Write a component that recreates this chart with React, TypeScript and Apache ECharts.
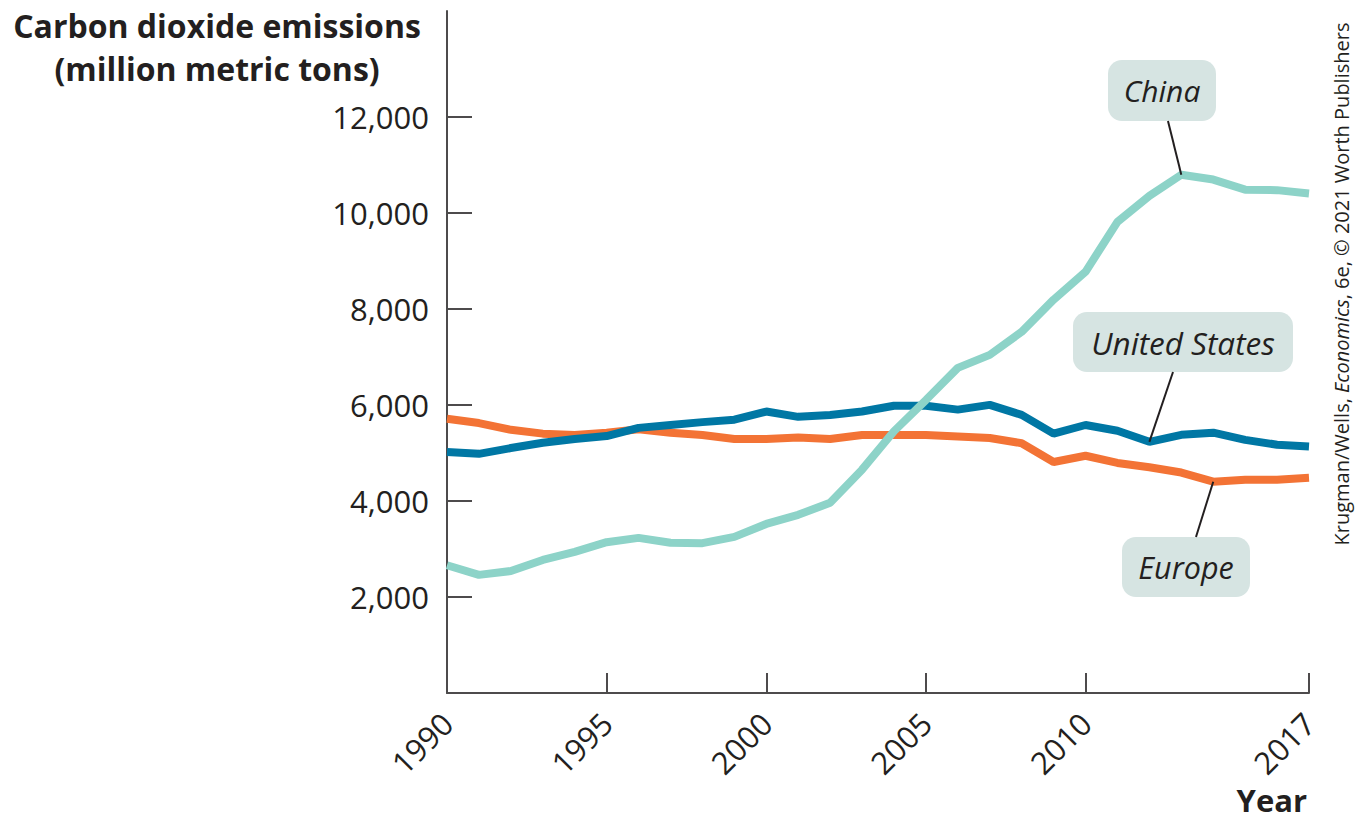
import React, { useEffect, useRef } from "react";
import * as echarts from "echarts";

const years = [1990, 1991, 1992, 1993, 1994, 1995, 1996, 1997, 1998, 1999, 2000, 2001, 2002, 2003, 2004, 2005, 2006, 2007, 2008, 2009, 2010, 2011, 2012, 2013, 2014, 2015, 2016, 2017];
const china = [2660, 2460, 2540, 2770, 2940, 3140, 3230, 3130, 3120, 3250, 3520, 3710, 3960, 4650, 5450, 6100, 6770, 7040, 7520, 8190, 8770, 9810, 10350, 10790, 10690, 10480, 10470, 10400];
const unitedStates = [5020, 4980, 5100, 5210, 5290, 5350, 5520, 5580, 5640, 5690, 5860, 5750, 5790, 5860, 5980, 5980, 5900, 6000, 5790, 5400, 5580, 5460, 5230, 5375, 5420, 5270, 5170, 5130];
const europe = [5710, 5620, 5480, 5400, 5370, 5420, 5490, 5420, 5370, 5290, 5290, 5320, 5290, 5370, 5370, 5370, 5340, 5310, 5200, 4810, 4940, 4790, 4700, 4590, 4400, 4440, 4440, 4480];
const xTicks = [1990, 1995, 2000, 2005, 2010, 2017];
const yTicks = [2000, 4000, 6000, 8000, 10000, 12000];

const FONT = "'Open Sans', 'Noto Sans', sans-serif";
const TXT = "#231f20";
const AXIS = "#4d4b4c";

export default function App() {
  const ref = useRef<HTMLDivElement>(null);
  useEffect(() => {
    document.body.style.margin = "0";
    const chart = echarts.init(ref.current!, null, { renderer: "svg" });
    const mk = (vals: number[]) => years.map((y, i) => [y, vals[i]]);
    chart.setOption({
      animation: false,
      textStyle: { fontFamily: FONT },
      grid: { left: 447, right: 48, top: 11, bottom: 130 },
      xAxis: {
        type: "value",
        min: 1990,
        max: 2017,
        splitLine: { show: false },
        axisLine: { lineStyle: { color: AXIS, width: 2 } },
        axisTick: { inside: true, length: 20, customValues: xTicks, lineStyle: { color: AXIS, width: 2 } },
        axisLabel: {
          customValues: xTicks,
          rotate: 45,
          fontSize: 31,
          color: TXT,
          margin: 25,
          fontFamily: FONT,
          formatter: (v: number) => String(v),
        },
      },
      yAxis: {
        type: "value",
        min: 0,
        max: 14200,
        splitLine: { show: false },
        axisLine: { show: true, lineStyle: { color: AXIS, width: 2 } },
        axisTick: { show: true, inside: true, length: 25, customValues: yTicks, lineStyle: { color: AXIS, width: 2 } },
        axisLabel: {
          customValues: yTicks,
          fontSize: 31,
          color: TXT,
          margin: 18,
          fontFamily: FONT,
          formatter: (v: number) => v.toLocaleString("en-US"),
        },
      },
      series: [
        { name: "Europe", type: "line", symbol: "none", data: mk(europe), lineStyle: { color: "#f37335", width: 8 }, itemStyle: { color: "#f37335" } },
        { name: "United States", type: "line", symbol: "none", data: mk(unitedStates), lineStyle: { color: "#0077a4", width: 8 }, itemStyle: { color: "#0077a4" } },
        { name: "China", type: "line", symbol: "none", data: mk(china), lineStyle: { color: "#8dd3c8", width: 8 }, itemStyle: { color: "#8dd3c8" } },
      ],
    });

    const px = (si: number, yr: number, vals: number[]) =>
      chart.convertToPixel({ seriesIndex: si }, [yr, vals[years.indexOf(yr)]]) as number[];
    const cn = px(2, 2013, china);
    const us = px(1, 2012, unitedStates);
    const eu = px(0, 2014, europe);

    const box = (x: number, y: number, w: number, h: number, label: string, fs: number) => [
      { type: "rect", shape: { x, y, width: w, height: h, r: 14 }, style: { fill: "#d6e4e2" }, z: 10 },
      {
        type: "text",
        x: x + w / 2,
        y: y + h / 2,
        style: { text: label, fontSize: fs, fontStyle: "italic", fontFamily: FONT, fill: TXT, align: "center", verticalAlign: "middle" },
        z: 11,
      },
    ];
    const conn = (x1: number, y1: number, p: number[]) => ({
      type: "line",
      shape: { x1, y1, x2: p[0], y2: p[1] },
      style: { stroke: TXT, lineWidth: 2 },
      z: 12,
    });

    chart.setOption({
      graphic: [
        {
          type: "text",
          x: 217,
          y: 25,
          style: { text: "Carbon dioxide emissions", fontSize: 32, fontWeight: "bold", fontFamily: FONT, fill: TXT, align: "center", verticalAlign: "middle" },
        },
        {
          type: "text",
          x: 217,
          y: 68,
          style: { text: "(million metric tons)", fontSize: 32, fontWeight: "bold", fontFamily: FONT, fill: TXT, align: "center", verticalAlign: "middle" },
        },
        {
          type: "text",
          x: 1307,
          y: 800,
          style: { text: "Year", fontSize: 31, fontWeight: "bold", fontFamily: FONT, fill: TXT, align: "right", verticalAlign: "middle" },
        },
        {
          type: "text",
          x: 1341,
          y: 284,
          rotation: Math.PI / 2,
          style: {
            text: "{a|Krugman/Wells, }{b|Economics}{a|, 6e, © 2021 Worth Publishers}",
            align: "center",
            verticalAlign: "middle",
            rich: {
              a: { fontSize: 20, fontFamily: FONT, fill: TXT },
              b: { fontSize: 20, fontFamily: FONT, fill: TXT, fontStyle: "italic" },
            },
          },
        },
        ...box(1108, 60, 108, 61, "China", 30),
        conn(1168, 121, cn),
        ...box(1073, 312, 220, 60, "United States", 31.5),
        conn(1173, 372, us),
        ...box(1122, 537, 128, 60, "Europe", 30.5),
        conn(1196, 537, eu),
      ],
    });
    return () => chart.dispose();
  }, []);
  return <div ref={ref} style={{ width: 1357, height: 823 }} />;
}
